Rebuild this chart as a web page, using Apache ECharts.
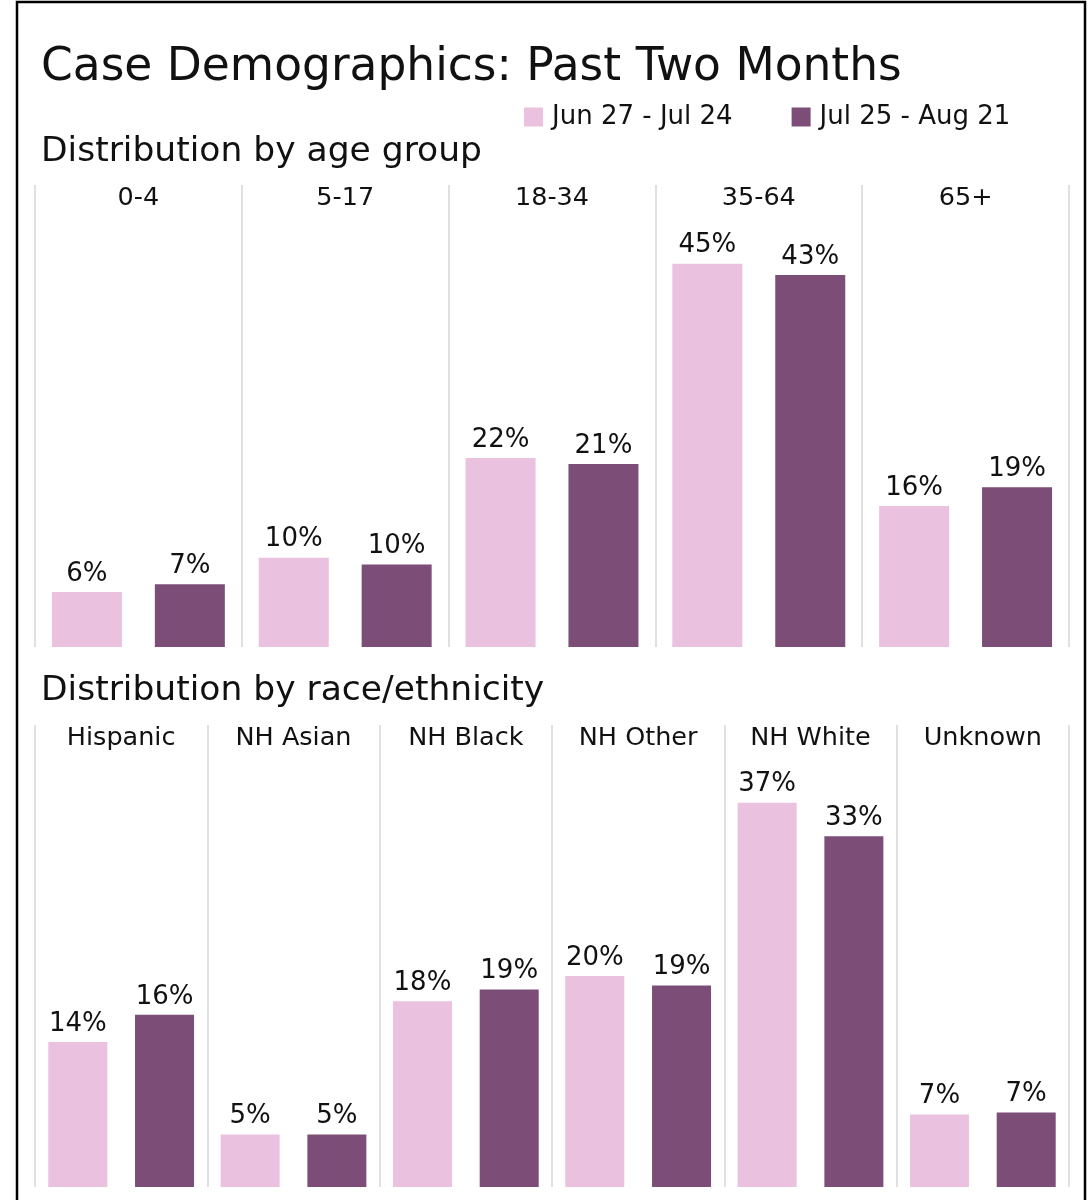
<!DOCTYPE html>
<html>
<head>
<meta charset="utf-8">
<script src="https://cdn.jsdelivr.net/npm/echarts@6/dist/echarts.min.js"></script>
<style>
  html, body { margin: 0; padding: 0; background: #fff; }
  #chart { width: 1089px; height: 1200px; }
</style>
</head>
<body>
<div id="chart"></div>
<script>
// periods
const periods = ["Jun 27 - Jul 24", "Jul 25 - Aug 21"];

// age panel
const ageGroups = ["0-4", "5-17", "18-34", "35-64", "65+"];
const agePeriod1 = [6.4, 10.4, 22.0, 44.6, 16.4];
const agePeriod2 = [7.3, 9.6, 21.3, 43.3, 18.6];

// race panel
const raceGroups = ["Hispanic", "NH Asian", "NH Black", "NH Other", "NH White", "Unknown"];
const racePeriod1 = [13.8, 5.0, 17.7, 20.1, 36.6, 6.9];
const racePeriod2 = [16.4, 5.0, 18.8, 19.2, 33.4, 7.1];

const pink = "#eac1de";
const plum = "#7c4d76";
const font = "DejaVu Sans";

const chart = echarts.init(document.getElementById("chart"));

function catAxis(idx, data) {
    return {
        type: "category",
        gridIndex: idx,
        data: data,
        position: "top",
        axisLine: { show: false },
        axisTick: { show: false },
        axisLabel: {
            inside: true,
            margin: 0,
            color: "#111",
            fontFamily: font,
            fontSize: 25.5
        },
        splitLine: { show: true, lineStyle: { color: "#d6d6d6", width: 1.5 } }
    };
}

function valAxis(idx, max) {
    return {
        type: "value",
        gridIndex: idx,
        min: 0,
        max: max,
        show: false,
        splitLine: { show: false }
    };
}

const barLabel = {
    show: true,
    position: "top",
    distance: 5,
    color: "#111",
    fontFamily: font,
    fontSize: 26,
    formatter: function (p) {
        return Math.round(p.value) + "%";
    }
};

function bars(name, idx, data, color, width) {
    return {
        name: name,
        type: "bar",
        xAxisIndex: idx,
        yAxisIndex: idx,
        data: data,
        barWidth: width,
        barGap: "47%",
        itemStyle: { color: color },
        label: barLabel,
        emphasis: { disabled: true }
    };
}

const options = {
    animation: false,
    textStyle: { fontFamily: font },
    title: [
        {
            text: "Case Demographics: Past Two Months",
            left: 36,
            top: 40,
            textStyle: { fontSize: 45.5, fontWeight: "normal", color: "#111", fontFamily: font }
        },
        {
            text: "Distribution by age group",
            left: 36,
            top: 130,
            textStyle: { fontSize: 34.5, fontWeight: "normal", color: "#111", fontFamily: font }
        },
        {
            text: "Distribution by race/ethnicity",
            left: 36,
            top: 669,
            textStyle: { fontSize: 34.5, fontWeight: "normal", color: "#111", fontFamily: font }
        }
    ],
    legend: {
        data: periods,
        left: 519,
        top: 99,
        icon: "rect",
        itemWidth: 19,
        itemHeight: 19,
        itemGap: 59,
        textStyle: { fontSize: 26, color: "#111", fontFamily: font, padding: [0, 0, 0, 4] }
    },
    grid: [
        { left: 35, right: 20, top: 185, height: 462 },
        { left: 35, right: 20, top: 725, height: 462 }
    ],
    xAxis: [catAxis(0, ageGroups), catAxis(1, raceGroups)],
    yAxis: [valAxis(0, 53.76), valAxis(1, 44.0)],
    series: [
        bars(periods[0], 0, agePeriod1, pink, 70),
        bars(periods[1], 0, agePeriod2, plum, 70),
        bars(periods[0], 1, racePeriod1, pink, 59),
        bars(periods[1], 1, racePeriod2, plum, 59)
    ],
    graphic: [
        {
            type: "rect",
            silent: true,
            shape: { x: 17, y: 2, width: 1068, height: 1220 },
            style: { fill: null, stroke: "#000", lineWidth: 2.5 }
        }
    ]
};

chart.setOption(options);
</script>
</body>
</html>
